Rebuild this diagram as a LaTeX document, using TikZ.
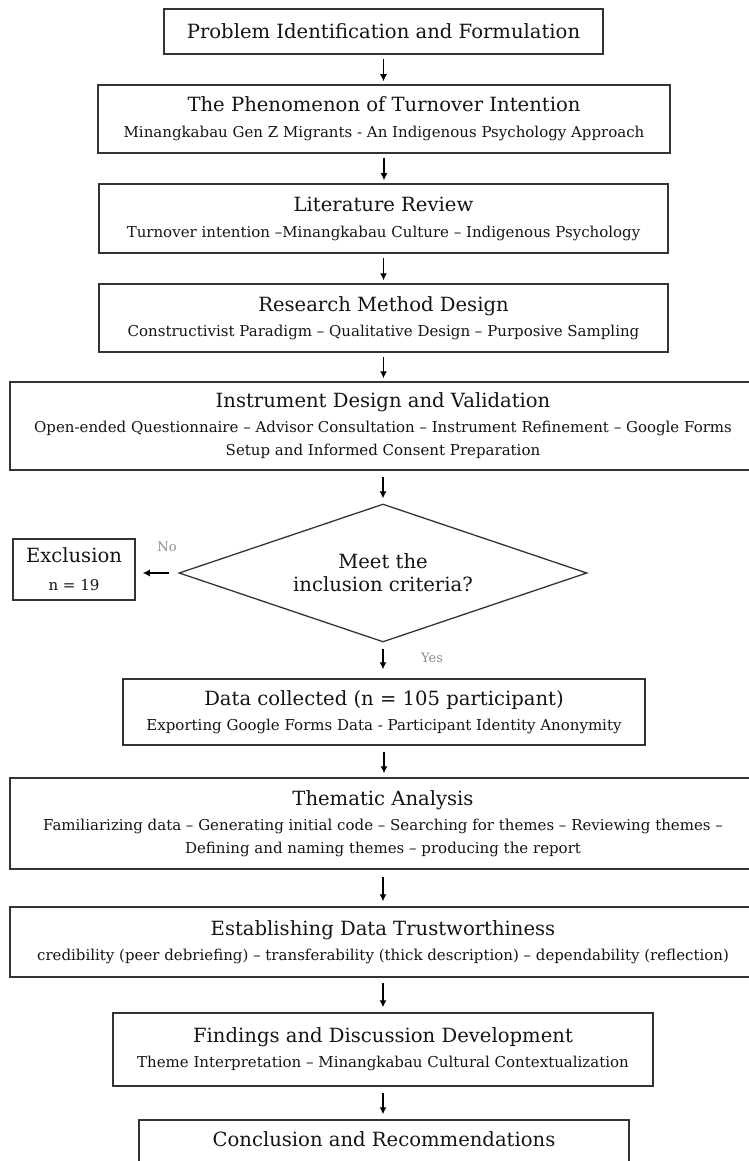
\documentclass[tikz,border=0pt]{standalone}
\usepackage{fontspec}
\setmainfont{DejaVu Serif}
\usetikzlibrary{arrows.meta,shapes.geometric}
\newcommand{\ttl}{\fontsize{19.6}{23}\selectfont}
\newcommand{\sub}{\fontsize{15}{23}\selectfont}
\tikzset{
  box/.style={draw=black!80,line width=1.5pt,align=center,inner sep=0pt,font=\sub,text=black!92},
  flow/.style={-{Latex[length=7pt,width=7pt]},line width=1.2pt,shorten <=4pt,shorten >=3pt},
  side/.style={text=black!45,font=\fontsize{13}{14}\selectfont,inner sep=0pt},
}
\begin{document}
\begin{tikzpicture}[x=1pt,y=-1pt]
    \useasboundingbox (0,0) rectangle (749,1161);
    % steps of the study
    \node[box,minimum width=439pt,minimum height=45pt] (prob) at (383.5,31.5) {\ttl Problem Identification and Formulation};
    \node[box,minimum width=572pt,minimum height=68pt] (phen) at (384,119) {{\ttl The Phenomenon of Turnover Intention}\\[3pt] Minangkabau Gen Z Migrants - An Indigenous Psychology Approach};
    \node[box,minimum width=569pt,minimum height=69pt] (lit) at (383.5,218.5) {{\ttl Literature Review}\\[3pt] Turnover intention –Minangkabau Culture – Indigenous Psychology};
    \node[box,minimum width=569pt,minimum height=68pt] (meth) at (383.5,318) {{\ttl Research Method Design}\\[2pt] Constructivist Paradigm – Qualitative Design – Purposive Sampling};
    \node[box,minimum width=746pt,minimum height=88pt] (inst) at (383,426) {{\ttl Instrument Design and Validation}\\[2pt] Open-ended Questionnaire – Advisor Consultation – Instrument Refinement – Google Forms\\ Setup and Informed Consent Preparation};
    \node[box,shape=diamond,aspect=3,minimum width=408pt,minimum height=138pt,line width=1.3pt,font=\ttl] (dec) at (383,573) {Meet the\\ inclusion criteria?};
    \node[box,minimum width=122pt,minimum height=61pt] (excl) at (74,569.5) {{\ttl Exclusion}\\[5pt] n = 19};
    \node[box,minimum width=522pt,minimum height=66pt] (data) at (384,712) {{\ttl Data collected (n = 105 participant)}\\[2pt] Exporting Google Forms Data - Participant Identity Anonymity};
    \node[box,minimum width=746pt,minimum height=91pt] (them) at (383,823.5) {{\ttl Thematic Analysis}\\[2pt] Familiarizing data – Generating initial code – Searching for themes – Reviewing themes –\\ Defining and naming themes – producing the report};
    \node[box,minimum width=746pt,minimum height=70pt] (trust) at (383,942) {{\ttl Establishing Data Trustworthiness}\\[2pt] credibility (peer debriefing) – transferability (thick description) – dependability (reflection)};
    \node[box,minimum width=540pt,minimum height=73pt] (find) at (383,1049.5) {{\ttl Findings and Discussion Development}\\[2pt] Theme Interpretation – Minangkabau Cultural Contextualization};
    \node[box,minimum width=490pt,minimum height=70pt] (concl) at (384,1155) {{\ttl Conclusion and Recommendations}\\[2pt] \strut};
    % answers
    \node[side] (no) at (167,547) {No};
    \node[side] (yes) at (432,658) {Yes};
    % arrows
    \draw[flow] (prob.south) -- (prob.south |- phen.north);
    \draw[flow] (phen.south) -- (phen.south |- lit.north);
    \draw[flow] (lit.south) -- (lit.south |- meth.north);
    \draw[flow] (meth.south) -- (meth.south |- inst.north);
    \draw[flow,shorten <=6pt,shorten >=5pt] (inst.south) -- (dec.north);
    \draw[flow,shorten <=9pt,shorten >=7pt] (dec.west) -- (dec.west -| excl.east);
    \draw[flow,shorten <=6pt,shorten >=9pt] (dec.south) -- (dec.south |- data.north);
    \draw[flow,shorten <=6pt,shorten >=4pt] (data.south) -- (data.south |- them.north);
    \draw[flow,shorten <=7pt,shorten >=5pt] (them.south) -- (them.south |- trust.north);
    \draw[flow,shorten <=5pt,shorten >=5pt] (trust.south) -- (trust.south |- find.north);
    \draw[flow,shorten <=6pt,shorten >=5pt] (find.south) -- (find.south |- concl.north);
\end{tikzpicture}
\end{document}
